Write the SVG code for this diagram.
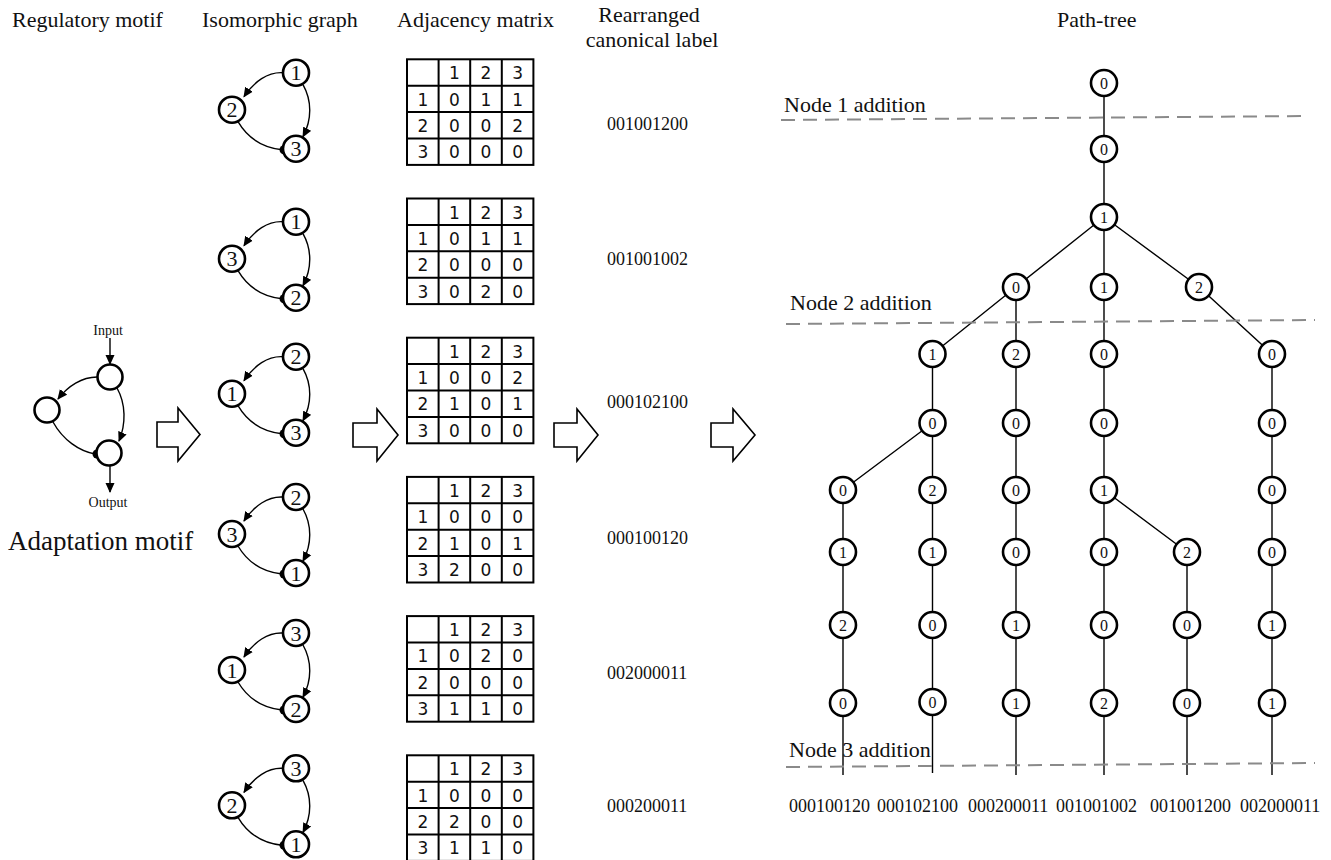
<svg xmlns="http://www.w3.org/2000/svg" width="1331" height="860" viewBox="0 0 1331 860">
<style>
.t{font-family:"Liberation Serif","Times New Roman",serif;fill:#111}
.h{font-size:22px}
.n{fill:#fff;stroke:#000;stroke-width:2.6}
.gl{font-family:"Liberation Serif",serif;font-size:22px;text-anchor:middle;fill:#111}
.tl{font-family:"Liberation Serif",serif;font-size:16px;text-anchor:middle;fill:#111}
.e{fill:none;stroke:#000;stroke-width:1.4}
.ba{fill:#fff;stroke:#000;stroke-width:1.6}
.mx{fill:none;stroke:#000;stroke-width:2}
.mt{font-family:"DejaVu Sans",sans-serif;font-size:17px;text-anchor:middle;fill:#111}
.dash{stroke:#8a8a8a;stroke-width:2;stroke-dasharray:14 8;fill:none}
.lbl{font-family:"Liberation Serif",serif;font-size:18px;fill:#111}
</style>
<defs>
<marker id="ah" viewBox="0 0 10 10" refX="9" refY="5" markerWidth="10" markerHeight="10" markerUnits="userSpaceOnUse" orient="auto"><path d="M0,0.5 L10,5 L0,9.5 z" fill="#000"/></marker>
<g id="gshape">
<path class="e" d="M283,0 C268,-1 254,9 244,24" marker-end="url(#ah)"/>
<path class="e" d="M303,12 C312,28 312,47 303,64" marker-end="url(#ah)"/>
<path class="e" d="M238,49 C248,66 264,75 282,77"/>
<circle cx="284" cy="77" r="4.5" fill="#000"/>
<circle class="n" cx="296" cy="0" r="13"/>
<circle class="n" cx="232" cy="37" r="13"/>
<circle class="n" cx="296" cy="76" r="13"/>
</g>
<g id="grid">
<rect class="mx" x="407" y="0" width="126.4" height="105.6"/>
<path class="mx" d="M438.6,0 V105.6 M470.2,0 V105.6 M501.8,0 V105.6 M407,26.4 H533.4 M407,52.8 H533.4 M407,79.2 H533.4"/>
</g>
</defs>

<g id="headers">
<text class="t h" x="12" y="27">Regulatory motif</text>
<text class="t h" x="202" y="27">Isomorphic graph</text>
<text class="t h" x="397" y="27">Adjacency matrix</text>
<text class="t h" x="649" y="22" text-anchor="middle">Rearranged</text>
<text class="t h" x="652" y="47" text-anchor="middle">canonical label</text>
<text class="t h" x="1057" y="27">Path-tree</text>
</g>

<g id="motif">
<text class="t" x="108" y="335" font-size="14" text-anchor="middle">Input</text>
<line class="e" x1="110" y1="338" x2="110" y2="364" marker-end="url(#ah)"/>
<path class="e" d="M97,377 C82,377 68,386 58,399" marker-end="url(#ah)"/>
<path class="e" d="M117,388 C126,404 126,424 119,441" marker-end="url(#ah)"/>
<path class="e" d="M53,422 C63,440 79,451 95,454"/>
<circle cx="97" cy="454" r="4.5" fill="#000"/>
<circle class="n" cx="110" cy="377" r="12.5"/>
<circle class="n" cx="47" cy="410" r="12.5"/>
<circle class="n" cx="109" cy="453" r="12.5"/>
<line class="e" x1="110" y1="466" x2="110" y2="492" marker-end="url(#ah)"/>
<text class="t" x="108" y="507" font-size="14" text-anchor="middle">Output</text>
<text class="t" x="8" y="550" font-size="27">Adaptation motif</text>
</g>

<g id="arrows">
<path class="ba" d="M157,422 H178 V408 L200,434.5 L178,461 V447 H157 Z"/>
<path class="ba" d="M353,423 H377 V409 L398,435 L377,461 V447 H353 Z"/>
<path class="ba" d="M554,423 H577 V409 L598,435 L577,461 V447 H554 Z"/>
<path class="ba" d="M711,423 H733 V409 L755,435 L733,461 V447 H711 Z"/>
</g>

<g id="graph1" transform="translate(0,72.7)"><use href="#gshape"/>
<text class="gl" x="296" y="7.5">1</text><text class="gl" x="232" y="44.5">2</text><text class="gl" x="296" y="83.5">3</text></g>
<g id="graph2" transform="translate(0,221.7)"><use href="#gshape"/>
<text class="gl" x="296" y="7.5">1</text><text class="gl" x="232" y="44.5">3</text><text class="gl" x="296" y="83.5">2</text></g>
<g id="graph3" transform="translate(0,356.7)"><use href="#gshape"/>
<text class="gl" x="296" y="7.5">2</text><text class="gl" x="232" y="44.5">1</text><text class="gl" x="296" y="83.5">3</text></g>
<g id="graph4" transform="translate(0,497)"><use href="#gshape"/>
<text class="gl" x="296" y="7.5">2</text><text class="gl" x="232" y="44.5">3</text><text class="gl" x="296" y="83.5">1</text></g>
<g id="graph5" transform="translate(0,633)"><use href="#gshape"/>
<text class="gl" x="296" y="7.5">3</text><text class="gl" x="232" y="44.5">1</text><text class="gl" x="296" y="83.5">2</text></g>
<g id="graph6" transform="translate(0,768.3)"><use href="#gshape"/>
<text class="gl" x="296" y="7.5">3</text><text class="gl" x="232" y="44.5">2</text><text class="gl" x="296" y="83.5">1</text></g>

<g id="matrix1" transform="translate(0,59.3)"><use href="#grid"/>
<text class="mt" x="454.4" y="20">1</text><text class="mt" x="486" y="20">2</text><text class="mt" x="517.6" y="20">3</text>
<text class="mt" x="422.8" y="46.4">1</text><text class="mt" x="454.4" y="46.4">0</text><text class="mt" x="486" y="46.4">1</text><text class="mt" x="517.6" y="46.4">1</text>
<text class="mt" x="422.8" y="72.8">2</text><text class="mt" x="454.4" y="72.8">0</text><text class="mt" x="486" y="72.8">0</text><text class="mt" x="517.6" y="72.8">2</text>
<text class="mt" x="422.8" y="99.2">3</text><text class="mt" x="454.4" y="99.2">0</text><text class="mt" x="486" y="99.2">0</text><text class="mt" x="517.6" y="99.2">0</text>
</g>
<g id="matrix2" transform="translate(0,198.5)"><use href="#grid"/>
<text class="mt" x="454.4" y="20">1</text><text class="mt" x="486" y="20">2</text><text class="mt" x="517.6" y="20">3</text>
<text class="mt" x="422.8" y="46.4">1</text><text class="mt" x="454.4" y="46.4">0</text><text class="mt" x="486" y="46.4">1</text><text class="mt" x="517.6" y="46.4">1</text>
<text class="mt" x="422.8" y="72.8">2</text><text class="mt" x="454.4" y="72.8">0</text><text class="mt" x="486" y="72.8">0</text><text class="mt" x="517.6" y="72.8">0</text>
<text class="mt" x="422.8" y="99.2">3</text><text class="mt" x="454.4" y="99.2">0</text><text class="mt" x="486" y="99.2">2</text><text class="mt" x="517.6" y="99.2">0</text>
</g>
<g id="matrix3" transform="translate(0,337.7)"><use href="#grid"/>
<text class="mt" x="454.4" y="20">1</text><text class="mt" x="486" y="20">2</text><text class="mt" x="517.6" y="20">3</text>
<text class="mt" x="422.8" y="46.4">1</text><text class="mt" x="454.4" y="46.4">0</text><text class="mt" x="486" y="46.4">0</text><text class="mt" x="517.6" y="46.4">2</text>
<text class="mt" x="422.8" y="72.8">2</text><text class="mt" x="454.4" y="72.8">1</text><text class="mt" x="486" y="72.8">0</text><text class="mt" x="517.6" y="72.8">1</text>
<text class="mt" x="422.8" y="99.2">3</text><text class="mt" x="454.4" y="99.2">0</text><text class="mt" x="486" y="99.2">0</text><text class="mt" x="517.6" y="99.2">0</text>
</g>
<g id="matrix4" transform="translate(0,476.9)"><use href="#grid"/>
<text class="mt" x="454.4" y="20">1</text><text class="mt" x="486" y="20">2</text><text class="mt" x="517.6" y="20">3</text>
<text class="mt" x="422.8" y="46.4">1</text><text class="mt" x="454.4" y="46.4">0</text><text class="mt" x="486" y="46.4">0</text><text class="mt" x="517.6" y="46.4">0</text>
<text class="mt" x="422.8" y="72.8">2</text><text class="mt" x="454.4" y="72.8">1</text><text class="mt" x="486" y="72.8">0</text><text class="mt" x="517.6" y="72.8">1</text>
<text class="mt" x="422.8" y="99.2">3</text><text class="mt" x="454.4" y="99.2">2</text><text class="mt" x="486" y="99.2">0</text><text class="mt" x="517.6" y="99.2">0</text>
</g>
<g id="matrix5" transform="translate(0,616.1)"><use href="#grid"/>
<text class="mt" x="454.4" y="20">1</text><text class="mt" x="486" y="20">2</text><text class="mt" x="517.6" y="20">3</text>
<text class="mt" x="422.8" y="46.4">1</text><text class="mt" x="454.4" y="46.4">0</text><text class="mt" x="486" y="46.4">2</text><text class="mt" x="517.6" y="46.4">0</text>
<text class="mt" x="422.8" y="72.8">2</text><text class="mt" x="454.4" y="72.8">0</text><text class="mt" x="486" y="72.8">0</text><text class="mt" x="517.6" y="72.8">0</text>
<text class="mt" x="422.8" y="99.2">3</text><text class="mt" x="454.4" y="99.2">1</text><text class="mt" x="486" y="99.2">1</text><text class="mt" x="517.6" y="99.2">0</text>
</g>
<g id="matrix6" transform="translate(0,755.3)"><use href="#grid"/>
<text class="mt" x="454.4" y="20">1</text><text class="mt" x="486" y="20">2</text><text class="mt" x="517.6" y="20">3</text>
<text class="mt" x="422.8" y="46.4">1</text><text class="mt" x="454.4" y="46.4">0</text><text class="mt" x="486" y="46.4">0</text><text class="mt" x="517.6" y="46.4">0</text>
<text class="mt" x="422.8" y="72.8">2</text><text class="mt" x="454.4" y="72.8">2</text><text class="mt" x="486" y="72.8">0</text><text class="mt" x="517.6" y="72.8">0</text>
<text class="mt" x="422.8" y="99.2">3</text><text class="mt" x="454.4" y="99.2">1</text><text class="mt" x="486" y="99.2">1</text><text class="mt" x="517.6" y="99.2">0</text>
</g>

<g id="labels">
<text class="lbl" x="607" y="130">001001200</text>
<text class="lbl" x="607" y="265">001001002</text>
<text class="lbl" x="607" y="408">000102100</text>
<text class="lbl" x="607" y="544">000100120</text>
<text class="lbl" x="607" y="679">002000011</text>
<text class="lbl" x="607" y="812">000200011</text>
</g>

<g id="connectors">
<path class="e" d="M1104,83 V775 M1104,217 L1016,287 M1104,217 L1199,287 M1016,287 V775 M1016,287 L932.5,354 M1199,287 L1272,354 M1272,354 V775 M932.5,354 V773 M932.5,423 L843,490 M843,490 V775 M1104,490 L1187,552 M1187,552 V775"/>
</g>

<g id="dividers">
<line class="dash" x1="781" y1="120" x2="1309" y2="116"/>
<line class="dash" x1="786" y1="324" x2="1315" y2="320"/>
<line class="dash" x1="786" y1="767" x2="1315" y2="763"/>
<text class="t h" x="784" y="112">Node 1 addition</text>
<text class="t h" x="790" y="310">Node 2 addition</text>
<text class="t h" x="789" y="757">Node 3 addition</text>
</g>

<g id="tree">
<g id="t0"><circle class="n" cx="1104" cy="83" r="13"/><text class="tl" x="1104" y="88.5">0</text></g>
<g id="t1"><circle class="n" cx="1104" cy="149" r="13"/><text class="tl" x="1104" y="154.5">0</text></g>
<g id="t2"><circle class="n" cx="1104" cy="217" r="13"/><text class="tl" x="1104" y="222.5">1</text></g>
<g id="t3a"><circle class="n" cx="1016" cy="287" r="13"/><text class="tl" x="1016" y="292.5">0</text></g>
<g id="t3b"><circle class="n" cx="1104" cy="287" r="13"/><text class="tl" x="1104" y="292.5">1</text></g>
<g id="t3c"><circle class="n" cx="1199" cy="287" r="13"/><text class="tl" x="1199" y="292.5">2</text></g>
<g id="t4b"><circle class="n" cx="932.5" cy="354" r="13"/><text class="tl" x="932.5" y="359.5">1</text></g>
<g id="t4c"><circle class="n" cx="1016" cy="354" r="13"/><text class="tl" x="1016" y="359.5">2</text></g>
<g id="t4d"><circle class="n" cx="1104" cy="354" r="13"/><text class="tl" x="1104" y="359.5">0</text></g>
<g id="t4f"><circle class="n" cx="1272" cy="354" r="13"/><text class="tl" x="1272" y="359.5">0</text></g>
<g id="t5b"><circle class="n" cx="932.5" cy="423" r="13"/><text class="tl" x="932.5" y="428.5">0</text></g>
<g id="t5c"><circle class="n" cx="1016" cy="423" r="13"/><text class="tl" x="1016" y="428.5">0</text></g>
<g id="t5d"><circle class="n" cx="1104" cy="423" r="13"/><text class="tl" x="1104" y="428.5">0</text></g>
<g id="t5f"><circle class="n" cx="1272" cy="423" r="13"/><text class="tl" x="1272" y="428.5">0</text></g>
<g id="t6a"><circle class="n" cx="843" cy="490" r="13"/><text class="tl" x="843" y="495.5">0</text></g>
<g id="t6b"><circle class="n" cx="932.5" cy="490" r="13"/><text class="tl" x="932.5" y="495.5">2</text></g>
<g id="t6c"><circle class="n" cx="1016" cy="490" r="13"/><text class="tl" x="1016" y="495.5">0</text></g>
<g id="t6d"><circle class="n" cx="1104" cy="490" r="13"/><text class="tl" x="1104" y="495.5">1</text></g>
<g id="t6f"><circle class="n" cx="1272" cy="490" r="13"/><text class="tl" x="1272" y="495.5">0</text></g>
<g id="t7a"><circle class="n" cx="843" cy="552" r="13"/><text class="tl" x="843" y="557.5">1</text></g>
<g id="t7b"><circle class="n" cx="932.5" cy="552" r="13"/><text class="tl" x="932.5" y="557.5">1</text></g>
<g id="t7c"><circle class="n" cx="1016" cy="552" r="13"/><text class="tl" x="1016" y="557.5">0</text></g>
<g id="t7d"><circle class="n" cx="1104" cy="552" r="13"/><text class="tl" x="1104" y="557.5">0</text></g>
<g id="t7e"><circle class="n" cx="1187" cy="552" r="13"/><text class="tl" x="1187" y="557.5">2</text></g>
<g id="t7f"><circle class="n" cx="1272" cy="552" r="13"/><text class="tl" x="1272" y="557.5">0</text></g>
<g id="t8a"><circle class="n" cx="843" cy="625" r="13"/><text class="tl" x="843" y="630.5">2</text></g>
<g id="t8b"><circle class="n" cx="932.5" cy="625" r="13"/><text class="tl" x="932.5" y="630.5">0</text></g>
<g id="t8c"><circle class="n" cx="1016" cy="625" r="13"/><text class="tl" x="1016" y="630.5">1</text></g>
<g id="t8d"><circle class="n" cx="1104" cy="625" r="13"/><text class="tl" x="1104" y="630.5">0</text></g>
<g id="t8e"><circle class="n" cx="1187" cy="625" r="13"/><text class="tl" x="1187" y="630.5">0</text></g>
<g id="t8f"><circle class="n" cx="1272" cy="625" r="13"/><text class="tl" x="1272" y="630.5">1</text></g>
<g id="t9a"><circle class="n" cx="843" cy="703" r="13"/><text class="tl" x="843" y="708.5">0</text></g>
<g id="t9b"><circle class="n" cx="932.5" cy="702" r="13"/><text class="tl" x="932.5" y="707.5">0</text></g>
<g id="t9c"><circle class="n" cx="1016" cy="703" r="13"/><text class="tl" x="1016" y="708.5">1</text></g>
<g id="t9d"><circle class="n" cx="1104" cy="703" r="13"/><text class="tl" x="1104" y="708.5">2</text></g>
<g id="t9e"><circle class="n" cx="1187" cy="703" r="13"/><text class="tl" x="1187" y="708.5">0</text></g>
<g id="t9f"><circle class="n" cx="1272" cy="703" r="13"/><text class="tl" x="1272" y="708.5">1</text></g>
</g>

<g id="leaf-labels">
<text class="lbl" x="789" y="812">000100120</text>
<text class="lbl" x="877" y="812">000102100</text>
<text class="lbl" x="968" y="812">000200011</text>
<text class="lbl" x="1056" y="812">001001002</text>
<text class="lbl" x="1150" y="812">001001200</text>
<text class="lbl" x="1240" y="812">002000011</text>
</g>
</svg>
